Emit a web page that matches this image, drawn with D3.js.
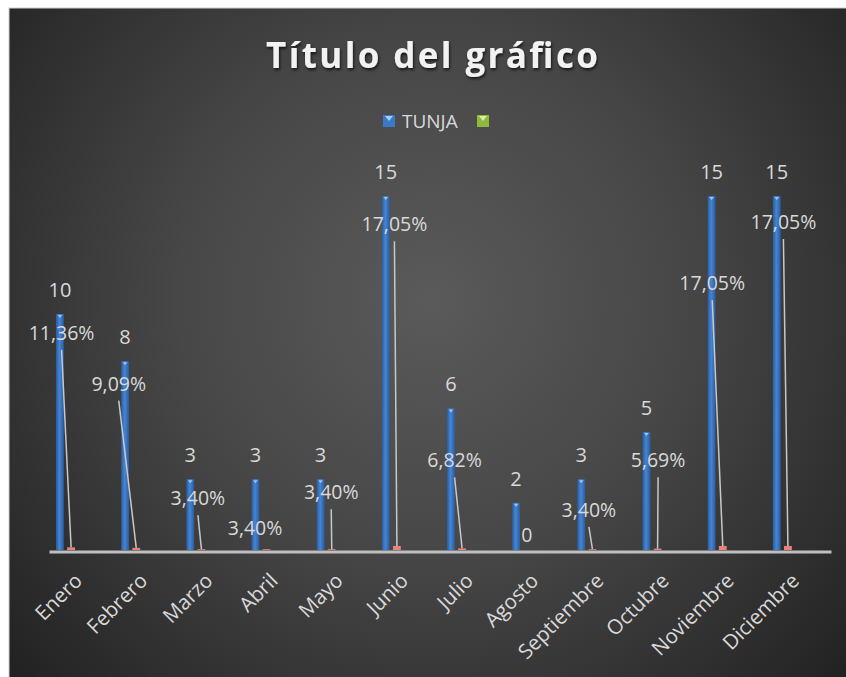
<!DOCTYPE html>
<html>
<head>
<meta charset="utf-8">
<script src="https://cdn.jsdelivr.net/npm/d3@7"></script>
<style>
  html, body { margin: 0; padding: 0; background: #ffffff; }
  svg { display: block; }
</style>
</head>
<body>
<svg id="chart" width="846" height="677"></svg>
<script>
// ---- data ----
const months = ["Enero","Febrero","Marzo","Abril","Mayo","Junio","Julio","Agosto","Septiembre","Octubre","Noviembre","Diciembre"];
const tunja = [10, 8, 3, 3, 3, 15, 6, 2, 3, 5, 15, 15];
const pct = [0.1136, 0.0909, 0.0340, 0.0340, 0.0340, 0.1705, 0.0682, 0, 0.0340, 0.0569, 0.1705, 0.1705];
const pctLabels = ["11,36%","9,09%","3,40%","3,40%","3,40%","17,05%","6,82%","0","3,40%","5,69%","17,05%","17,05%"];
const seriesNames = ["TUNJA", ""];
const yDomain = [0, 16];

// ---- layout for manually placed percentage labels (dx px from band centre, y in data units) ----
const pctLabelDx = [-20, -28, -14, -22, -11, -13, -18, -11, -14, -10, -21, -15];
const pctLabelY  = [9.2, 7.05, 2.2, 0.95, 2.45, 13.8, 3.8, 0.63, 1.7, 3.8, 11.3, 13.9];
const pctHasLine = [true, true, true, false, true, true, true, false, true, true, true, true];

// ---- chart ----
const W = 846, H = 677;
const svg = d3.select("#chart");
const defs = svg.append("defs");

const bg = defs.append("radialGradient").attr("id", "bg")
  .attr("gradientUnits", "userSpaceOnUse")
  .attr("cx", 430).attr("cy", 300).attr("r", 560);
bg.append("stop").attr("offset", "0%").attr("stop-color", "#5a5a5a");
bg.append("stop").attr("offset", "45%").attr("stop-color", "#474747");
bg.append("stop").attr("offset", "100%").attr("stop-color", "#222222");

const barGrad = defs.append("linearGradient").attr("id", "barGrad")
  .attr("x1", "0%").attr("x2", "100%").attr("y1", "0%").attr("y2", "0%");
barGrad.append("stop").attr("offset", "0%").attr("stop-color", "#2a5c9e");
barGrad.append("stop").attr("offset", "45%").attr("stop-color", "#4685d4");
barGrad.append("stop").attr("offset", "100%").attr("stop-color", "#2a5c9e");

const shadow = defs.append("filter").attr("id", "tshadow")
  .attr("x", "-10%").attr("y", "-20%").attr("width", "120%").attr("height", "150%");
shadow.append("feDropShadow").attr("dx", 1).attr("dy", 2).attr("stdDeviation", 1.5)
  .attr("flood-color", "#000").attr("flood-opacity", 0.7);

// chart area
svg.append("rect").attr("x", 9).attr("y", 8).attr("width", W - 8).attr("height", H - 7)
  .attr("fill", "url(#bg)").attr("stroke", "#d0d0d0").attr("stroke-width", 1);

// scales
const x = d3.scaleBand().domain(months).range([49, 831]).padding(0);
const sub = d3.scaleBand().domain(["TUNJA", "pct"]).range([7, 26]).paddingInner(0.3);
const y = d3.scaleLinear().domain(yDomain).range([550, 550 - 16 * 23.6]);

const plot = svg.append("g");

// TUNJA bars
plot.selectAll("rect.tunja").data(months).join("rect")
  .attr("class", "tunja")
  .attr("x", (d) => x(d) + sub("TUNJA"))
  .attr("width", sub.bandwidth())
  .attr("y", (d, i) => y(tunja[i]))
  .attr("height", (d, i) => y(0) - y(tunja[i]))
  .attr("fill", "url(#barGrad)");

// small highlight cap on top of bars
plot.selectAll("path.cap").data(months).join("path")
  .attr("class", "cap")
  .attr("d", (d, i) => {
    const x0 = x(d) + sub("TUNJA"), w = sub.bandwidth(), yt = y(tunja[i]);
    return `M${x0 + 1.5},${yt + 1}L${x0 + w - 1.5},${yt + 1}L${x0 + w / 2},${yt + 4}Z`;
  })
  .attr("fill", "#9cc3f0");

// percentage series bars (tiny, plotted on same axis)
plot.selectAll("rect.pct").data(months).join("rect")
  .attr("class", "pct")
  .attr("x", (d) => x(d) + sub("pct"))
  .attr("width", sub.bandwidth())
  .attr("y", (d, i) => y(pct[i]))
  .attr("height", (d, i) => y(0) - y(pct[i]))
  .attr("fill", "#e8817a");

// axis line
const xAxis = d3.axisBottom(x).tickSize(0).tickFormat("");
const axG = svg.append("g").attr("transform", `translate(0,${y(0) + 1.5})`).call(xAxis);
axG.select(".domain").attr("stroke", "#bfbfbf").attr("stroke-width", 3);

// leader lines
plot.selectAll("line.leader").data(months.filter((d, i) => pctHasLine[i])).join("line")
  .attr("class", "leader")
  .attr("x1", (d) => { const i = months.indexOf(d); return x(d) + x.bandwidth() / 2 + pctLabelDx[i]; })
  .attr("y1", (d) => { const i = months.indexOf(d); return y(pctLabelY[i]) + 17; })
  .attr("x2", (d) => x(d) + sub("pct") + sub.bandwidth() / 2)
  .attr("y2", (d) => { const i = months.indexOf(d); return y(pct[i]); })
  .attr("stroke", "#c8c8c8").attr("stroke-width", 1.5);

// value labels
const labelFont = "'Open Sans', 'Noto Sans', sans-serif";
plot.selectAll("text.val").data(months).join("text")
  .attr("class", "val")
  .attr("x", (d) => x(d) + sub("TUNJA") + sub.bandwidth() / 2)
  .attr("y", (d, i) => y(tunja[i]) - 17)
  .attr("text-anchor", "middle")
  .attr("font-family", labelFont).attr("font-size", 20)
  .attr("fill", "#d9d9d9")
  .text((d, i) => tunja[i]);

// percentage labels
plot.selectAll("text.pctl").data(months).join("text")
  .attr("class", "pctl")
  .attr("x", (d, i) => x(d) + x.bandwidth() / 2 + pctLabelDx[i])
  .attr("y", (d, i) => y(pctLabelY[i]) + 7)
  .attr("text-anchor", "middle")
  .attr("font-family", labelFont).attr("font-size", 19.5)
  .attr("fill", "#d9d9d9")
  .text((d, i) => pctLabels[i]);

// category labels
svg.append("g").selectAll("text.cat").data(months).join("text")
  .attr("class", "cat")
  .attr("transform", (d) => `translate(${x(d) + x.bandwidth() / 2 + 2},${y(0) + 32}) rotate(-45)`)
  .attr("text-anchor", "end")
  .attr("font-family", labelFont).attr("font-size", 20.5)
  .attr("fill", "#d9d9d9")
  .text((d) => d);

// title
svg.append("text")
  .attr("x", 432).attr("y", 68)
  .attr("text-anchor", "middle")
  .attr("font-family", "'Open Sans', 'Noto Sans', sans-serif")
  .attr("font-weight", "bold").attr("font-size", 35)
  .attr("fill", "#f2f2f2")
  .attr("textLength", 332).attr("lengthAdjust", "spacing")
  .attr("filter", "url(#tshadow)")
  .text("Título del gráfico");

// legend
const legend = svg.append("g");
const legendColors = ["#3c78c8", "#8fb93c"];
const legendX = [383, 477];
legend.selectAll("rect").data(seriesNames).join("rect")
  .attr("x", (d, i) => legendX[i]).attr("y", 115)
  .attr("width", 12).attr("height", 12)
  .attr("fill", (d, i) => legendColors[i]);
legend.selectAll("path").data(seriesNames).join("path")
  .attr("d", (d, i) => `M${legendX[i] + 2},${116}L${legendX[i] + 10},${116}L${legendX[i] + 6},${121}Z`)
  .attr("fill", (d, i) => i === 0 ? "#a8cdf5" : "#d8ef9c");
legend.selectAll("text").data(seriesNames).join("text")
  .attr("x", (d, i) => legendX[i] + 19).attr("y", 127.5)
  .attr("font-family", labelFont).attr("font-size", 19)
  .attr("fill", "#d9d9d9")
  .text((d) => d);
</script>
</body>
</html>
